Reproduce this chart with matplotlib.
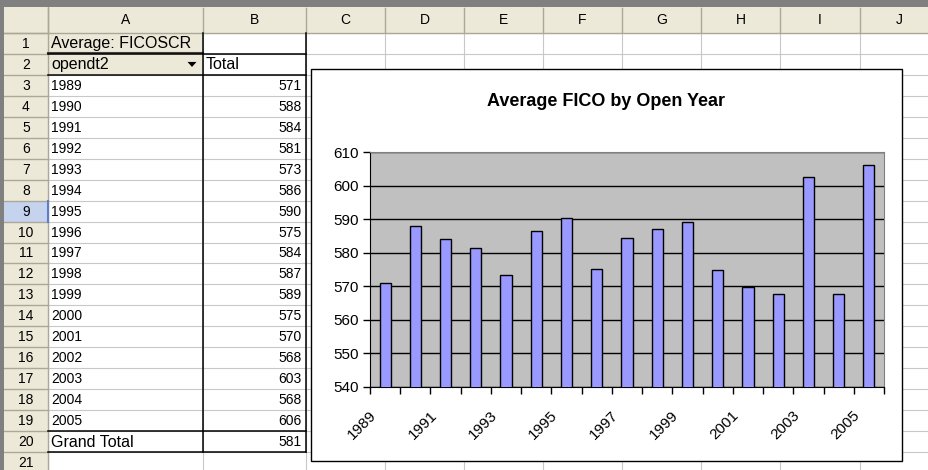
import matplotlib
matplotlib.use("Agg")
import matplotlib.pyplot as plt
from matplotlib.patches import Rectangle, Polygon
from matplotlib.transforms import ScaledTranslation
import numpy as np

plt.rcParams['font.family'] = ['Liberation Sans', 'DejaVu Sans']

# ---------------- data ----------------
years = [1989, 1990, 1991, 1992, 1993, 1994, 1995, 1996, 1997, 1998,
         1999, 2000, 2001, 2002, 2003, 2004, 2005]
avg_fico = [571.0, 588.1, 584.1, 581.4, 573.3, 586.4, 590.3, 575.1, 584.4,
            587.0, 589.2, 574.8, 569.7, 567.8, 602.6, 567.8, 606.2]
grand_total = 581
col_letters = ["A", "B", "C", "D", "E", "F", "G", "H", "I", "J"]
pivot_data_field = "Average: FICOSCR"
pivot_row_field = "opendt2"
pivot_total_label = "Total"
pivot_grand_label = "Grand Total"
chart_title = "Average FICO by Open Year"
y_ticks = [540, 550, 560, 570, 580, 590, 600, 610]

# ---------------- layout (pixels) ----------------
W, H = 929, 470
fig = plt.figure(figsize=(W / 100, H / 100), dpi=100)
bg = fig.add_axes([0, 0, 1, 1])
bg.set_xlim(0, W)
bg.set_ylim(H, 0)
bg.axis('off')

col_edges = [48, 203, 306, 385, 464, 543, 622, 701, 780, 860, 939]
row_top = 33
rh = 20.95
n_rows = 21
row_edges = [row_top + k * rh for k in range(n_rows + 1)]
hdr_fill = '#ECE9D8'
hdr_line = '#ACA899'
grid_col = '#C8C8C8'

# white sheet
bg.add_patch(Rectangle((0, 0), W, H, facecolor='white', edgecolor='none', zorder=0))
# cell gridlines
for y in row_edges:
    bg.plot([48, W], [y, y], color=grid_col, lw=0.8, zorder=1)
for x in col_edges:
    bg.plot([x, x], [33, H], color=grid_col, lw=0.8, zorder=1)

# column header
bg.add_patch(Rectangle((4, 7), W - 4, 26, facecolor=hdr_fill, edgecolor='none', zorder=2))
bg.plot([4, W], [33, 33], color=hdr_line, lw=1, zorder=3)
for x in col_edges:
    bg.plot([x, x], [8, 32], color=hdr_line, lw=1, zorder=3)
for i, c in enumerate(col_letters):
    cx = (col_edges[i] + col_edges[i + 1]) / 2
    bg.text(cx, 20.5, c, ha='center', va='center', fontsize=10, zorder=4)

# row header
bg.add_patch(Rectangle((4, 33), 44, H - 33, facecolor=hdr_fill, edgecolor='none', zorder=2))
sel_row = 9
bg.add_patch(Rectangle((4, row_edges[sel_row - 1]), 44, rh, facecolor='#C5D3EF',
                       edgecolor='none', zorder=2))
for y in row_edges:
    bg.plot([4, 48], [y, y], color=hdr_line, lw=1, zorder=3)
bg.plot([48, 48], [7, H], color=hdr_line, lw=1, zorder=3)
for k in range(n_rows):
    cy = row_edges[k] + rh / 2
    bg.text(26, cy + 0.5, str(k + 1), ha='center', va='center', fontsize=10, zorder=4)

# dark frame bands
bg.add_patch(Rectangle((0, 0), W, 7, facecolor='#808080', edgecolor='none', zorder=5))
bg.add_patch(Rectangle((0, 0), 4, H, facecolor='#808080', edgecolor='none', zorder=5))

# pivot field buttons (A1, A2)
bg.add_patch(Rectangle((48.5, row_edges[0] + 0.5), 154, rh * 2 - 1, facecolor=hdr_fill,
                       edgecolor='none', zorder=2))
bg.plot([48, 203], [row_edges[1] - 1, row_edges[1] - 1], color='#404040', lw=1.5, zorder=3)
# drop-down arrow
ay = row_edges[1] + rh / 2
bg.add_patch(Polygon([[187.5, ay - 2.5], [196.5, ay - 2.5], [192, ay + 2.5]], closed=True,
                     facecolor='black', edgecolor='none', zorder=4))

# selected cell marker
bg.plot([48.5, 48.5], [row_edges[sel_row - 1], row_edges[sel_row]], color='#5B7FC7', lw=1.5, zorder=4)

# pivot borders
black_kw = dict(color='black', lw=1.1, zorder=4)
bg.plot([48, 306], [row_edges[1], row_edges[1]], **black_kw)
bg.plot([48, 306], [row_edges[2], row_edges[2]], **black_kw)
bg.plot([48, 306], [row_edges[19], row_edges[19]], **black_kw)
bg.plot([48, 306], [row_edges[20], row_edges[20]], **black_kw)
bg.plot([203, 203], [row_edges[0], row_edges[20]], **black_kw)
bg.plot([306, 306], [row_edges[0], row_edges[20]], **black_kw)

# pivot text
def rc(k):
    return row_edges[k - 1] + rh / 2 + 0.5

bg.text(51, rc(1), pivot_data_field, ha='left', va='center', fontsize=11.5, zorder=4)
bg.text(51, rc(2), pivot_row_field, ha='left', va='center', fontsize=11.5, zorder=4)
bg.text(206, rc(2), pivot_total_label, ha='left', va='center', fontsize=11.5, zorder=4)
for i, (yr, v) in enumerate(zip(years, avg_fico)):
    r = 3 + i
    bg.text(51, rc(r), str(yr), ha='left', va='center', fontsize=10, zorder=4)
    bg.text(302, rc(r), f"{v:.0f}", ha='right', va='center', fontsize=10, zorder=4)
bg.text(51, rc(20), pivot_grand_label, ha='left', va='center', fontsize=11.5, zorder=4)
bg.text(302, rc(20), f"{grand_total}", ha='right', va='center', fontsize=10, zorder=4)

# chart box
bg.add_patch(Rectangle((311, 69), 591, 392, facecolor='white', edgecolor='black', lw=1, zorder=6))
bg.text(606, 101, chart_title, ha='center', va='center', fontsize=13, fontweight='bold', zorder=7)

# ---------------- chart ----------------
pl, pr, pt, pb = 370, 884, 152, 387
ax = fig.add_axes([pl / W, (H - pb) / H, (pr - pl) / W, (pb - pt) / H])
ax.set_zorder(10)
ax.set_facecolor('#C0C0C0')
x = np.arange(len(years))
ax.bar(x, avg_fico, width=0.37, color='#9999FF', edgecolor='black', linewidth=1, zorder=3)
ax.set_xlim(-0.5, len(years) - 0.5)
ax.set_ylim(y_ticks[0], y_ticks[-1])
ax.set_yticks(y_ticks)
ax.yaxis.grid(True, color='black', lw=1)
ax.set_axisbelow(True)
for s in ['top', 'right']:
    ax.spines[s].set_color('#808080')
for s in ['left', 'bottom']:
    ax.spines[s].set_color('black')
ax.tick_params(axis='y', length=5, width=1, direction='out', pad=3, labelsize=11)
ax.set_xticks(x[::2], [str(y) for y in years[::2]])
ax.set_xticks(np.arange(-0.5, len(years), 1), minor=True)
ax.tick_params(axis='x', which='minor', length=5, width=1, direction='out')
ax.tick_params(axis='x', which='major', length=0, pad=19, labelsize=11)
offset = ScaledTranslation(-11 / 100, 0, fig.dpi_scale_trans)
for lab in ax.get_xticklabels():
    lab.set_rotation(45)
    lab.set_ha('right')
    lab.set_va('center')
    lab.set_rotation_mode('anchor')
    lab.set_transform(lab.get_transform() + offset)

fig.savefig('out.png', dpi=100)
